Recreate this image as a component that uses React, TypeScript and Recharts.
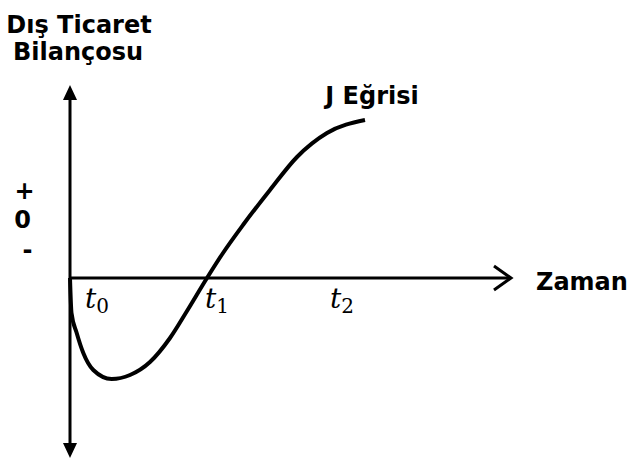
import React from 'react';
import { LineChart, Line, XAxis, YAxis, ReferenceLine } from 'recharts';

// J curve: time since depreciation vs. trade balance (arbitrary units, 0 = balanced)
const TIME = [0, 1.5, 6.7, 13.3, 23.3, 41.7, 60, 80, 100, 117, 137, 153, 173, 200, 227, 257, 295];
const BALANCE = [0, -35, -55, -75, -92, -101, -97, -84, -60, -33, 0, 25, 53, 88, 121, 145, 158];
const TIME_LABELS = [
	{ name: 't', sub: '0', x: 85 },
	{ name: 't', sub: '1', x: 205 },
	{ name: 't', sub: '2', x: 330 },
];
const SIGN_LABELS = [
	{ text: '+', x: 24.5, y: 199 },
	{ text: '0', x: 22.5, y: 228 },
	{ text: '-', x: 27.5, y: 258 },
];

const data = TIME.map((t, i) => ({ t, v: BALANCE[i] }));

const W = 628;
const H = 462;
const BOLD = '"DejaVu Sans", Verdana, sans-serif';

// vertical axis with filled arrowheads at both ends
const VAxis = (props: any) => {
	const { x1, y1, y2 } = props;
	const top = Math.min(y1, y2);
	const bottom = Math.max(y1, y2);
	return (
		<g>
			<line x1={x1} y1={top + 10} x2={x1} y2={bottom - 10} stroke='#000' strokeWidth={3} />
			<polygon points={`${x1},${top} ${x1 - 7},${top + 15} ${x1 + 7},${top + 15}`} fill='#000' />
			<polygon points={`${x1},${bottom} ${x1 - 7},${bottom - 15} ${x1 + 7},${bottom - 15}`} fill='#000' />
		</g>
	);
};

// horizontal axis with an open chevron at the right
const HAxis = (props: any) => {
	const { x1, x2, y1 } = props;
	const right = Math.max(x1, x2);
	return (
		<g fill='none' stroke='#000' strokeWidth={3}>
			<line x1={Math.min(x1, x2)} y1={y1} x2={right - 1} y2={y1} />
			<polyline points={`${right - 18},${y1 - 12} ${right - 1},${y1} ${right - 18},${y1 + 12}`} />
		</g>
	);
};

export default function App() {
	return (
		<div style={{ position: 'fixed', left: 0, top: 0, width: W, height: H, background: '#fff' }}>
			<LineChart width={W} height={H} data={data} margin={{ top: 85, right: 116, bottom: 4, left: 70 }}>
				<XAxis type='number' dataKey='t' domain={[0, 442]} hide />
				<YAxis type='number' domain={[-180, 193]} hide width={0} />
				<ReferenceLine x={0} shape={VAxis} />
				<ReferenceLine y={0} shape={HAxis} />
				<Line
					type='monotone'
					dataKey='v'
					stroke='#000'
					strokeWidth={4}
					dot={false}
					isAnimationActive={false}
				/>
			</LineChart>
			<svg width={W} height={H} style={{ position: 'absolute', left: 0, top: 0, pointerEvents: 'none' }}>
				<g fontFamily={BOLD} fontWeight='bold' fontSize={24} fill='#000'>
					<text x={79} y={33} textAnchor='middle'>Dış Ticaret</text>
					<text x={78} y={60} textAnchor='middle'>Bilançosu</text>
					<text x={372} y={104} textAnchor='middle'>J Eğrisi</text>
					<text x={536} y={290}>Zaman</text>
					{SIGN_LABELS.map((s) => (
						<text key={s.text} x={s.x} y={s.y} textAnchor='middle'>
							{s.text}
						</text>
					))}
				</g>
				<g fontFamily='"DejaVu Serif", serif' fill='#000'>
					{TIME_LABELS.map((l) => (
						<text key={l.sub} x={l.x} y={308} fontSize={28} fontStyle='italic'>
							{l.name}
							<tspan fontSize={20} fontStyle='normal' dy={5}>
								{l.sub}
							</tspan>
						</text>
					))}
				</g>
			</svg>
		</div>
	);
}
